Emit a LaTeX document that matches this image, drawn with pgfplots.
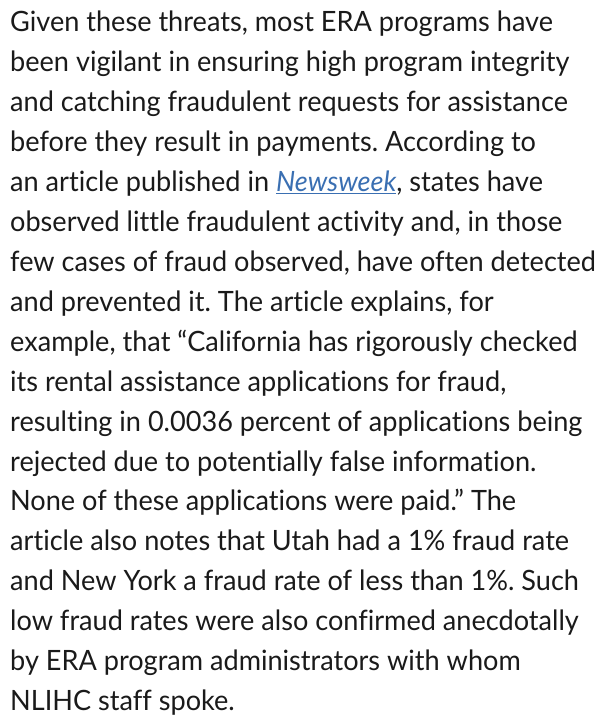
\documentclass[border=0pt]{standalone}
\usepackage{pgfplots}
\pgfplotsset{compat=1.18}
\usepackage{fontspec}
\setmainfont{Lato}[Ligatures={NoCommon,TeX}, FakeStretch=0.968]
\frenchspacing
\definecolor{txt}{HTML}{1A1A1A}
\definecolor{lnk}{HTML}{3A6FB2}
\newcommand{\ulink}[1]{\setbox0\hbox{#1}\rlap{\rule[-3bp]{\wd0}{1.3bp}}\box0}
\newcommand{\tline}[2]{\node[anchor=base west, inner sep=0pt, text=txt, font=\fontsize{28bp}{34bp}\selectfont] at (axis cs:10,{717-31.7-39.94*(#1-1)}) {#2};}
\begin{document}
\begin{tikzpicture}
\begin{axis}[width=600bp, height=717bp, scale only axis,
  xmin=0, xmax=600, ymin=0, ymax=717,
  axis line style={draw=none}, ticks=none, clip=false]
\tline{1}{Given these threats, most ERA programs have}
\tline{2}{been vigilant in ensuring high program integrity}
\tline{3}{and catching fraudulent requests for assistance}
\tline{4}{before they result in payments. According to}
\tline{5}{an article published in {\color{lnk}\ulink{\itshape Newsweek}}, states have}
\tline{6}{observed little fraudulent activity and, in those}
\tline{7}{few cases of fraud observed, have often detected}
\tline{8}{and prevented it. The article explains, for}
\tline{9}{example, that “California has rigorously checked}
\tline{10}{its rental assistance applications for fraud,}
\tline{11}{resulting in 0.0036 percent of applications being}
\tline{12}{rejected due to potentially false information.}
\tline{13}{None of these applications were paid.” The}
\tline{14}{article also notes that Utah had a 1\% fraud rate}
\tline{15}{and New York a fraud rate of less than 1\%. Such}
\tline{16}{low fraud rates were also confirmed anecdotally}
\tline{17}{by ERA program administrators with whom}
\tline{18}{NLIHC staff spoke.}
\end{axis}
\end{tikzpicture}
\end{document}
